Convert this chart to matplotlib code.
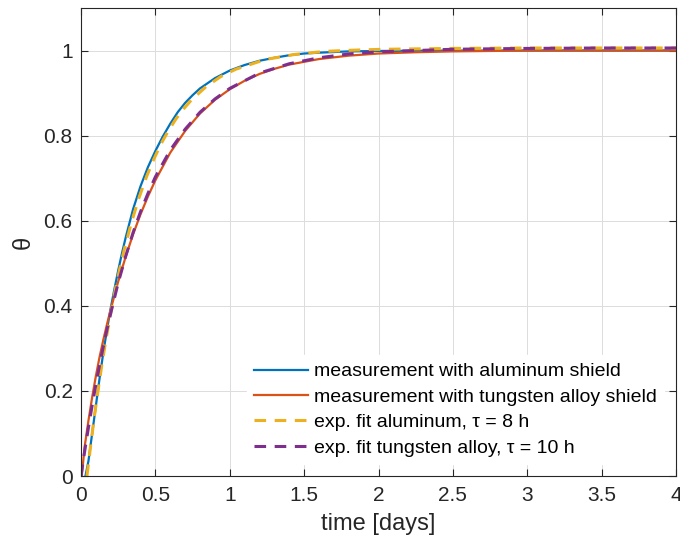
import matplotlib
matplotlib.use("Agg")
import matplotlib.pyplot as plt

plt.rcParams['font.family'] = ['Liberation Sans', 'DejaVu Sans']

# measurement, aluminum shield
t_al = [0.03, 0.05, 0.075, 0.1, 0.125, 0.15, 0.175, 0.2, 0.225, 0.25, 0.275, 0.3,
        0.35, 0.4, 0.45, 0.5, 0.55, 0.6, 0.65, 0.7, 0.75, 0.8, 0.9, 1.0, 1.1, 1.2,
        1.3, 1.4, 1.5, 1.6, 1.8, 2.0, 2.5, 3.0, 3.5, 4.0]
y_al = [0.0, 0.035, 0.10, 0.165, 0.23, 0.29, 0.345, 0.395, 0.44, 0.483, 0.523, 0.56,
        0.627, 0.681, 0.726, 0.764, 0.798, 0.828, 0.855, 0.877, 0.895, 0.911, 0.935,
        0.953, 0.966, 0.976, 0.983, 0.989, 0.993, 0.995, 0.998, 0.999, 1.0, 1.0, 1.0, 1.0]

# measurement, tungsten alloy shield
t_w = [0.005, 0.025, 0.05, 0.075, 0.1, 0.125, 0.15, 0.175, 0.2, 0.25, 0.3, 0.35, 0.4,
       0.45, 0.5, 0.6, 0.7, 0.8, 0.9, 1.0, 1.1, 1.2, 1.3, 1.4, 1.6, 1.8, 2.0, 2.25,
       2.5, 3.0, 3.5, 4.0]
y_w = [0.0, 0.07, 0.13, 0.185, 0.235, 0.28, 0.32, 0.357, 0.392, 0.457, 0.515, 0.568,
       0.615, 0.657, 0.695, 0.760, 0.811, 0.852, 0.884, 0.909, 0.929, 0.945, 0.957,
       0.967, 0.980, 0.988, 0.993, 0.996, 0.998, 1.0, 1.0, 1.0]

# exponential fit, aluminum (tau = 8 h)
t_fal = [0.04, 0.065, 0.09, 0.115, 0.14, 0.165, 0.19, 0.215, 0.24, 0.265, 0.29, 0.34,
         0.39, 0.44, 0.49, 0.54, 0.59, 0.64, 0.69, 0.74, 0.84, 0.94, 1.04, 1.24, 1.44,
         1.64, 1.84, 2.04, 2.5, 3.0, 3.5, 4.0]
y_fal = [0.0, 0.072, 0.140, 0.202, 0.261, 0.315, 0.364, 0.410, 0.454, 0.494, 0.531,
         0.597, 0.654, 0.703, 0.745, 0.782, 0.813, 0.840, 0.863, 0.883, 0.915, 0.939,
         0.956, 0.979, 0.991, 0.998, 1.001, 1.003, 1.005, 1.006, 1.006, 1.006]

# exponential fit, tungsten alloy (tau = 10 h)
t_fw = [0.0, 0.025, 0.05, 0.075, 0.1, 0.125, 0.15, 0.175, 0.2, 0.25, 0.3, 0.35, 0.4,
        0.45, 0.5, 0.6, 0.7, 0.8, 0.9, 1.0, 1.2, 1.4, 1.6, 1.8, 2.0, 2.5, 3.0, 3.5, 4.0]
y_fw = [0.0, 0.059, 0.114, 0.166, 0.215, 0.261, 0.304, 0.345, 0.383, 0.454, 0.516,
        0.572, 0.621, 0.664, 0.703, 0.766, 0.815, 0.855, 0.886, 0.911, 0.947, 0.969,
        0.983, 0.992, 0.997, 1.003, 1.005, 1.006, 1.006]

labels = ["measurement with aluminum shield",
          "measurement with tungsten alloy shield",
          "exp. fit aluminum, \u03c4 = 8 h",
          "exp. fit tungsten alloy, \u03c4 = 10 h"]
x_ticks = [0, 0.5, 1, 1.5, 2, 2.5, 3, 3.5, 4]
x_tick_labels = ["0", "0.5", "1", "1.5", "2", "2.5", "3", "3.5", "4"]
y_ticks = [0, 0.2, 0.4, 0.6, 0.8, 1.0]
y_tick_labels = ["0", "0.2", "0.4", "0.6", "0.8", "1"]

fig = plt.figure(figsize=(6.8, 5.45), dpi=100)
ax = fig.add_axes([81/680, 1-476/545, (676-81)/680, (476-8)/545])

ax.plot(t_al, y_al, color='#0072BD', lw=1.6, label=labels[0])
ax.plot(t_w, y_w, color='#D95319', lw=1.6, label=labels[1])
ax.plot(t_fal, y_fal, color='#EDB120', lw=2.2, ls=(0, (3.8, 2.8)), label=labels[2])
ax.plot(t_fw, y_fw, color='#7E2F8E', lw=2.2, ls=(0, (3.8, 2.8)), label=labels[3])

ax.set_xlim(0, 4)
ax.set_ylim(0, 1.1)
ax.set_xticks(x_ticks)
ax.set_xticklabels(x_tick_labels)
ax.set_yticks(y_ticks)
ax.set_yticklabels(y_tick_labels)
ax.grid(True, color='#dcdcdc', lw=0.7)
ax.set_axisbelow(True)
for s in ax.spines.values():
    s.set_color('#262626')
    s.set_linewidth(0.8)
ax.tick_params(direction='in', length=5, width=0.8, colors='#262626',
               labelsize=15, top=True, right=True)
ax.tick_params(axis='x', pad=7)
ax.tick_params(axis='y', pad=6)
ax.set_xlabel("time [days]", fontsize=17, color='#262626', labelpad=6)
ax.set_ylabel("\u03b8", fontsize=17, color='#262626', labelpad=6)

leg = ax.legend(loc='lower right', fontsize=14, frameon=True, fancybox=False,
                edgecolor='white', facecolor='white', framealpha=1,
                handlelength=2.75, handletextpad=0.3, labelspacing=0.4,
                borderaxespad=0.6, borderpad=0.4)

fig.savefig("out.png", dpi=100)
